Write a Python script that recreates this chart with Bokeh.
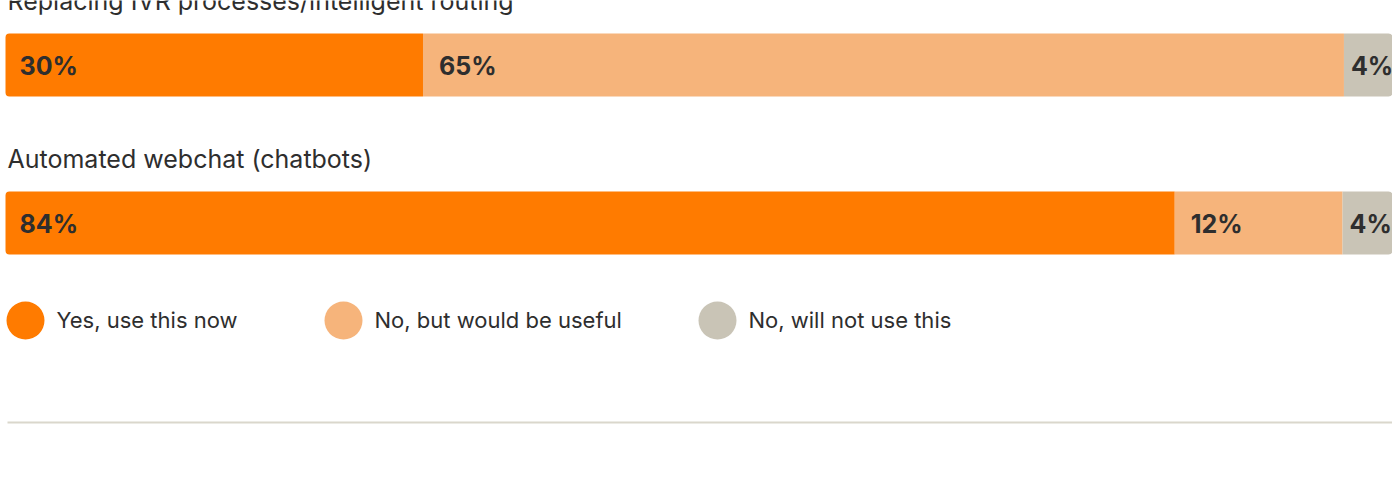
from bokeh.plotting import figure
from bokeh.models import Range1d, ColumnDataSource
from bokeh.core.properties import value
from bokeh.embed import file_html
from bokeh.resources import INLINE

# ---- data ----
questions = ["Replacing IVR processes/intelligent routing", "Automated webchat (chatbots)"]
series = ["Yes, use this now", "No, but would be useful", "No, will not use this"]
yes_now = [30.1, 84.3]
would_be_useful = [66.4, 12.1]
will_not_use = [3.5, 3.6]
yes_labels = ["30%", "84%"]
useful_labels = ["65%", "12%"]
not_labels = ["4%", "4%"]
colors = ["#FF7B00", "#F6B47B", "#C9C4B6"]

W, H = 1392, 491
LEFT_PX = 5
SCALE = (W - LEFT_PX) / 100.0  # px per percent


def px(xp):
    return (xp - LEFT_PX) / SCALE


p = figure(width=W, height=H, output_backend="svg", toolbar_location=None,
           x_range=Range1d(px(0), px(W)), y_range=Range1d(H, 0),
           min_border=0, min_border_left=0, min_border_right=0,
           min_border_top=0, min_border_bottom=0)
p.axis.visible = False
p.grid.visible = False
p.outline_line_color = None
p.background_fill_color = "white"
p.border_fill_color = "white"

FONT = value("Inter")
TXT = "#2e2e2e"
bar_y = [64.5, 222.5]
bar_h = 63
title_y = [0, 158]

# stacked segments
lefts1 = [0.0] * len(yes_now)
rights1 = [a for a in yes_now]
lefts2 = rights1
rights2 = [a + b for a, b in zip(yes_now, would_be_useful)]
lefts3 = rights2
rights3 = [a + b + c for a, b, c in zip(yes_now, would_be_useful, will_not_use)]

seg = [
    (lefts1, rights1, yes_labels, colors[0], (4, 0, 0, 4), 14),
    (lefts2, rights2, useful_labels, colors[1], 0, 16),
    (lefts3, rights3, not_labels, colors[2], (0, 4, 4, 0), 7),
]
for lft, rgt, labs, col, rad, off in seg:
    src = ColumnDataSource(dict(left=lft, right=rgt, y=bar_y, lab=labs))
    p.hbar(y="y", left="left", right="right", height=bar_h, source=src,
           fill_color=col, line_color=None, border_radius=rad)
    p.text(x="left", y="y", text="lab", source=src, x_offset=off, y_offset=1,
           text_font=FONT, text_font_style="bold", text_font_size="25px",
           text_color=TXT, text_baseline="middle", text_align="left")

# question titles
p.text(x=[px(7)] * 2, y=title_y, text=questions, text_font=FONT,
       text_font_size="25px", text_color=TXT, text_baseline="alphabetic",
       text_align="left")

# legend
leg_cx = [25, 343, 717]
leg_y = 320
p.scatter(x=[px(c) for c in leg_cx], y=[leg_y] * 3, size=38, marker="circle",
          fill_color=colors, line_color=None)
p.text(x=[px(c + 31) for c in leg_cx], y=[leg_y - 1] * 3, text=series,
       text_font=FONT, text_font_size="22px", text_color=TXT,
       text_baseline="alphabetic", text_align="left")

# bottom rule
p.line(x=[px(7), px(W)], y=[422, 422], line_color="#DAD7CC", line_width=2)

open("out.html", "w").write(file_html(p, INLINE))
